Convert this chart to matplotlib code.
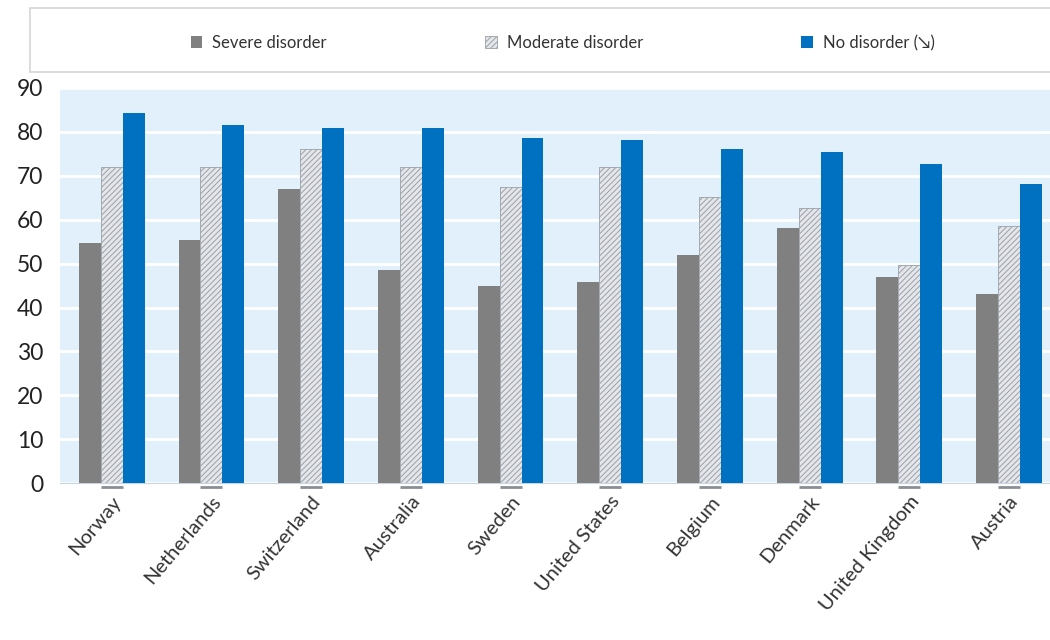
import matplotlib.pyplot as plt
from matplotlib.patches import Rectangle
import numpy as np

plt.rcParams['font.family'] = ['Lato', 'DejaVu Sans']

countries = ['Norway', 'Netherlands', 'Switzerland', 'Australia', 'Sweden',
             'United States', 'Belgium', 'Denmark', 'United Kingdom', 'Austria']
severe = [54.8, 55.3, 67.1, 48.6, 44.8, 45.9, 52.0, 58.1, 46.9, 43.1]
moderate = [71.9, 71.9, 76.0, 71.9, 67.5, 71.9, 65.2, 62.7, 49.7, 58.5]
no_disorder = [84.4, 81.5, 80.9, 80.9, 78.6, 78.1, 76.0, 75.4, 72.6, 68.1]

x = np.arange(len(countries))
w = 0.22

fig = plt.figure(figsize=(10.5, 6.4), dpi=100)
ax = fig.add_axes([0.057, 0.245, 0.943, 0.6175])
ax.set_facecolor('#e1f0fb')

ax.bar(x - w, severe, w, color='#808080', label='Severe disorder', zorder=3)
plt.rcParams['hatch.linewidth'] = 0.7
ax.bar(x, moderate, w, color='#e4e6ea', edgecolor='#9aa0a8', hatch='//////',
       linewidth=0.6, label='Moderate disorder', zorder=3)
ax.bar(x + w, no_disorder, w, color='#0070c0', label='No disorder (\u2198)', zorder=3)

# little base marks under the hatched bars
ax.hlines(np.full(len(x), -0.9), x - w / 2, x + w / 2, color='#8a8f96', lw=2,
          clip_on=False, zorder=4)

ax.set_ylim(0, 90)
ax.set_xlim(-0.52, 9.41)
ax.set_yticks(range(0, 91, 10))
ax.yaxis.grid(True, color='white', lw=2)
ax.set_axisbelow(True)
ax.tick_params(axis='y', length=0, labelsize=16.5, pad=12, labelcolor='#222222')
ax.tick_params(axis='x', length=0, pad=7)
ax.set_xticks(x)
ax.set_xticklabels(countries, rotation=50, ha='right', rotation_mode='anchor',
                   fontsize=14.5, color='#333333')
for s in ['top', 'right', 'left']:
    ax.spines[s].set_visible(False)
ax.spines['bottom'].set_color('#c8d4de')

# legend box across the top
fig.patches.append(Rectangle((0.029, 0.888), 0.975, 0.1, transform=fig.transFigure,
                             facecolor='white', edgecolor='#d6d6d6', lw=1.2))
fig.legend(loc='center', bbox_to_anchor=(0.536, 0.933), ncol=3, frameon=False,
           fontsize=12, handlelength=0.7, handleheight=0.7, columnspacing=9.5,
           handletextpad=0.6, labelcolor='#333333')

fig.savefig('out.png')
